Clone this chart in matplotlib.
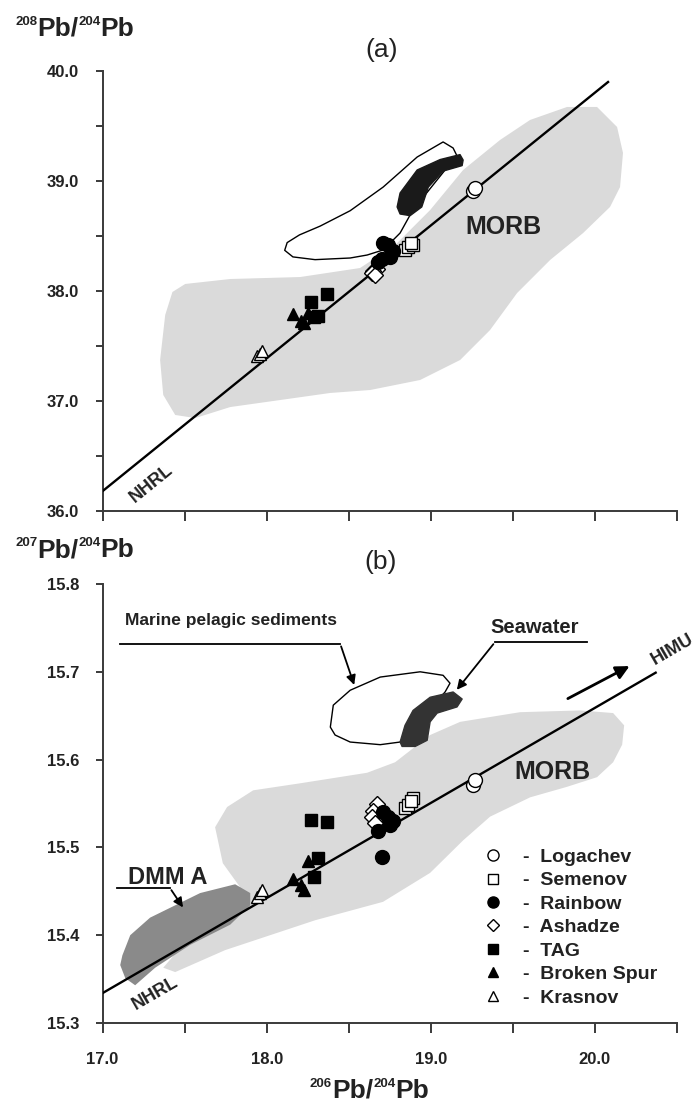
import matplotlib.pyplot as plt
from matplotlib.lines import Line2D
from matplotlib.patches import Polygon
import numpy as np

plt.rcParams['font.family'] = ['Liberation Sans', 'DejaVu Sans']

# ---- sample data (206Pb/204Pb shared by both panels) ----
log_x = [19.26, 19.27]
log_208 = [38.91, 38.94]
log_207 = [15.571, 15.577]

sem_x = [18.84, 18.86, 18.89, 18.88]
sem_208 = [38.37, 38.40, 38.42, 38.44]
sem_207 = [15.545, 15.548, 15.556, 15.553]

rain_x = [18.71, 18.74, 18.77, 18.75, 18.68, 18.70]
rain_208 = [38.44, 38.42, 38.36, 38.31, 38.26, 38.29]
rain_207 = [15.540, 15.535, 15.530, 15.525, 15.519, 15.489]

ash_x = [18.67, 18.65, 18.64, 18.66]
ash_208 = [38.20, 38.18, 38.16, 38.15]
ash_207 = [15.550, 15.542, 15.535, 15.528]

tag_x = [18.27, 18.37, 18.31, 18.29]
tag_208 = [37.90, 37.97, 37.77, 37.76]
tag_207 = [15.531, 15.529, 15.488, 15.466]

bs_x = [18.25, 18.16, 18.21, 18.23]
bs_208 = [37.80, 37.79, 37.73, 37.71]
bs_207 = [15.484, 15.464, 15.457, 15.452]

kr_x = [17.94, 17.96, 17.97]
kr_208 = [37.41, 37.43, 37.45]
kr_207 = [15.443, 15.448, 15.452]

# ---- reference line (NHRL) end points ----
nhrl_a_x = [17.0, 20.08]
nhrl_a_y = [36.18, 39.90]
nhrl_b_x = [17.0, 20.37]
nhrl_b_y = [15.334, 15.699]

# ---- fields, panel (a) ----
morb_a_x = [17.351, 17.382, 17.426, 17.504, 17.778, 18.204, 18.569, 18.783, 18.996, 19.197,
            19.422, 19.605, 19.830, 20.013, 20.135, 20.171, 20.153, 20.092, 19.928, 19.727,
            19.526, 19.361, 19.179, 18.935, 18.631, 18.387, 18.083, 17.778, 17.565, 17.443, 17.370]
morb_a_y = [37.373, 37.782, 37.991, 38.064, 38.109, 38.127, 38.209, 38.418, 38.736, 39.100,
            39.373, 39.555, 39.673, 39.673, 39.491, 39.255, 38.945, 38.764, 38.527, 38.282,
            37.982, 37.645, 37.373, 37.191, 37.100, 37.073, 37.009, 36.945, 36.845, 36.873, 37.055]

sed_a_x = [18.509, 18.612, 18.710, 18.813, 18.874, 18.965, 19.087, 19.166, 19.136, 19.075,
           18.917, 18.710, 18.509, 18.326, 18.200, 18.125, 18.110, 18.160, 18.295]
sed_a_y = [38.300, 38.327, 38.373, 38.527, 38.691, 38.873, 39.100, 39.209, 39.300, 39.355,
           39.218, 38.945, 38.730, 38.590, 38.510, 38.440, 38.370, 38.310, 38.285]

sw_a_x = [18.795, 18.813, 18.917, 19.057, 19.178, 19.197, 19.191, 19.075, 18.985, 18.945, 18.874, 18.813]
sw_a_y = [38.764, 38.891, 39.100, 39.195, 39.240, 39.191, 39.140, 39.090, 38.945, 38.764, 38.685, 38.700]

# ---- fields, panel (b) ----
morb_b_x = [17.686, 17.759, 17.918, 18.204, 18.612, 18.783, 18.996, 19.179, 19.544, 19.910,
            20.111, 20.178, 20.166, 20.111, 20.013, 19.830, 19.605, 19.361, 19.197, 18.996,
            18.709, 18.295, 17.747, 17.443, 17.370, 17.596, 17.837, 17.733]
morb_b_y = [15.523, 15.546, 15.565, 15.573, 15.585, 15.597, 15.628, 15.643, 15.654, 15.656,
            15.653, 15.639, 15.617, 15.597, 15.580, 15.569, 15.557, 15.535, 15.508, 15.471,
            15.438, 15.417, 15.383, 15.358, 15.363, 15.412, 15.455, 15.482]

dmm_x = [17.121, 17.169, 17.290, 17.595, 17.808, 17.900, 17.900, 17.778, 17.534, 17.321, 17.199, 17.139, 17.108]
dmm_y = [15.377, 15.400, 15.420, 15.448, 15.458, 15.448, 15.434, 15.412, 15.389, 15.363, 15.343, 15.351, 15.366]

sed_b_x = [18.388, 18.406, 18.509, 18.692, 18.935, 19.075, 19.117, 19.087, 18.813, 18.692, 18.509, 18.417]
sed_b_y = [15.637, 15.662, 15.679, 15.694, 15.700, 15.696, 15.687, 15.677, 15.620, 15.617, 15.620, 15.628]

sw_b_x = [18.813, 18.843, 18.892, 18.996, 19.136, 19.191, 19.160, 19.039, 18.996, 18.978, 18.905, 18.825]
sw_b_y = [15.620, 15.639, 15.656, 15.671, 15.677, 15.669, 15.660, 15.653, 15.643, 15.622, 15.615, 15.615]

legend_names = ['Logachev', 'Semenov', 'Rainbow', 'Ashadze', 'TAG', 'Broken Spur', 'Krasnov']
markers = ['o', 's', 'o', 'D', 's', '^', '^']
faces = ['white', 'white', 'black', 'white', 'black', 'black', 'white']
sizes = [10, 9, 10, 8, 9, 9, 9]

H = 1101
fig = plt.figure(figsize=(6.98, 11.01), dpi=100)
ax_a = fig.add_axes([102.5 / 698, 1 - 511 / H, 574.5 / 698, 440 / H])
ax_b = fig.add_axes([102.5 / 698, 1 - 1023 / H, 574.5 / 698, 439 / H])

GREY_LIGHT = '#dadada'
TXT = '#222222'


def field(ax, xs, ys, face, edge='none', lw=0.0, z=1):
    ax.add_patch(Polygon(np.column_stack([xs, ys]), closed=True, facecolor=face,
                         edgecolor=edge, linewidth=lw, zorder=z, joinstyle='round'))


def samples(ax, ys_list):
    xs_list = [log_x, sem_x, rain_x, ash_x, tag_x, bs_x, kr_x]
    order = [0, 1, 3, 2, 4, 5, 6]
    for i in order:
        ax.plot(xs_list[i], ys_list[i], linestyle='none', marker=markers[i],
                markersize=sizes[i], markerfacecolor=faces[i], markeredgecolor='black',
                markeredgewidth=1.0, zorder=6)


def style(ax, ylim, yticks, yminor):
    ax.set_xlim(17.0, 20.5)
    ax.set_ylim(*ylim)
    for s in ['top', 'right']:
        ax.spines[s].set_visible(False)
    for s in ['left', 'bottom']:
        ax.spines[s].set_color('#3a3a3a')
        ax.spines[s].set_linewidth(1.4)
    ax.set_xticks([17.0, 18.0, 19.0, 20.0])
    ax.set_xticks([17.5, 18.5, 19.5, 20.5], minor=True)
    ax.set_yticks(yticks)
    ax.set_yticks(yminor, minor=True)
    ax.tick_params(axis='x', which='both', direction='out', length=7, width=1.4,
                   color='#3a3a3a', pad=14, labelsize=12)
    ax.tick_params(axis='y', which='both', direction='out', length=5, width=1.4,
                   color='#3a3a3a', pad=12, labelsize=12)
    ax.yaxis.set_major_formatter(plt.FormatStrFormatter('%.1f'))
    ax.xaxis.set_major_formatter(plt.FormatStrFormatter('%.1f'))
    for lab in ax.get_xticklabels() + ax.get_yticklabels():
        lab.set_fontweight('bold')
        lab.set_color(TXT)


def iso_label(x_px, base_px, mass):
    # small raised mass number, then "Pb/", "204", "Pb" chained left to right
    y_main = H - base_px
    y_sup = H - base_px + 11
    prev = ax_a.annotate(mass, xy=(x_px, y_sup), xycoords='figure pixels',
                         fontsize=9.5, fontweight='bold', color=TXT, va='baseline', ha='left')
    for txt, y, size in [('Pb/', y_main, 19), ('204', y_sup, 9.5), ('Pb', y_main, 19)]:
        prev = ax_a.annotate(txt, xy=(1, y), xycoords=(prev, 'figure pixels'),
                             fontsize=size, fontweight='bold', color=TXT,
                             va='baseline', ha='left')


# ---------- panel (a) ----------
style(ax_a, (36.0, 40.0), [36.0, 37.0, 38.0, 39.0, 40.0], [36.5, 37.5, 38.5, 39.5])
ax_a.tick_params(axis='x', labelbottom=False)
field(ax_a, morb_a_x, morb_a_y, GREY_LIGHT, z=1)
field(ax_a, sed_a_x, sed_a_y, 'white', edge='black', lw=1.0, z=3)
field(ax_a, sw_a_x, sw_a_y, '#1a1a1a', edge='#1a1a1a', lw=1.0, z=4)
ax_a.plot(nhrl_a_x, nhrl_a_y, color='black', lw=1.7, zorder=5)
samples(ax_a, [log_208, sem_208, rain_208, ash_208, tag_208, bs_208, kr_208])
ax_a.text(19.44, 38.58, 'MORB', fontsize=18, fontweight='bold', color=TXT,
          ha='center', va='center', zorder=7)
ax_a.text(17.30, 36.25, 'NHRL', fontsize=13, fontweight='bold', rotation=39,
          ha='center', va='center', color=TXT, rotation_mode='anchor')

# ---------- panel (b) ----------
style(ax_b, (15.3, 15.8), [15.3, 15.4, 15.5, 15.6, 15.7, 15.8], [])
field(ax_b, morb_b_x, morb_b_y, GREY_LIGHT, z=1)
field(ax_b, dmm_x, dmm_y, '#8a8a8a', z=2)
field(ax_b, sed_b_x, sed_b_y, 'white', edge='black', lw=1.0, z=3)
field(ax_b, sw_b_x, sw_b_y, '#333333', edge='#333333', lw=1.0, z=4)
ax_b.plot(nhrl_b_x, nhrl_b_y, color='black', lw=1.7, zorder=5)
samples(ax_b, [log_207, sem_207, rain_207, ash_207, tag_207, bs_207, kr_207])
ax_b.text(19.74, 15.586, 'MORB', fontsize=18, fontweight='bold', color=TXT,
          ha='center', va='center', zorder=7)
ax_b.text(17.32, 15.333, 'NHRL', fontsize=13, fontweight='bold', rotation=30,
          ha='center', va='center', color=TXT, rotation_mode='anchor')
ax_b.text(17.395, 15.466, 'DMM A', fontsize=17, fontweight='bold', color=TXT,
          ha='center', va='center')
ax_b.plot([17.09, 17.41], [15.454, 15.454], color='black', lw=1.3, zorder=7)
ax_b.annotate('', xy=(17.50, 15.429), xytext=(17.41, 15.454),
              arrowprops=dict(arrowstyle='-|>', color='black', lw=1.3, mutation_scale=14),
              zorder=7)

# marine pelagic sediments label and pointer
ax_b.text(17.785, 15.758, 'Marine pelagic sediments', fontsize=12.5, fontweight='bold',
          color=TXT, ha='center', va='center')
ax_b.plot([17.108, 18.448], [15.732, 15.732], color='black', lw=1.3, zorder=7)
ax_b.annotate('', xy=(18.539, 15.682), xytext=(18.448, 15.732),
              arrowprops=dict(arrowstyle='-|>', color='black', lw=1.3, mutation_scale=14),
              zorder=7)

# seawater label and pointer
ax_b.text(19.635, 15.750, 'Seawater', fontsize=14.5, fontweight='bold',
          color=TXT, ha='center', va='center')
ax_b.plot([19.392, 19.952], [15.734, 15.734], color='black', lw=1.3, zorder=7)
ax_b.annotate('', xy=(19.148, 15.677), xytext=(19.392, 15.734),
              arrowprops=dict(arrowstyle='-|>', color='black', lw=1.3, mutation_scale=14),
              zorder=7)

# HIMU arrow
ax_b.annotate('', xy=(20.226, 15.708), xytext=(19.82, 15.668),
              arrowprops=dict(arrowstyle='-|>', color='black', lw=2.0, mutation_scale=20),
              zorder=7)
ax_b.text(20.47, 15.725, 'HIMU', fontsize=13, fontweight='bold', rotation=30,
          ha='center', va='center', color=TXT, rotation_mode='anchor')

# legend
handles = [Line2D([], [], linestyle='none', marker=m, markersize=s * 0.8,
                  markerfacecolor=f, markeredgecolor='black', markeredgewidth=1.0)
           for m, f, s in zip(markers, faces, sizes)]
leg = ax_b.legend(handles, ['-  ' + n for n in legend_names], loc='upper left',
                  bbox_to_anchor=(0.646, 0.42), frameon=False, handlelength=1.0,
                  handletextpad=1.05, labelspacing=0.3, borderpad=0,
                  prop={'weight': 'bold', 'size': 14})
for t in leg.get_texts():
    t.set_color(TXT)

# axis titles
iso_label(15, 36, '208')
iso_label(15, 557, '207')
iso_label(310, 1098, '206')
fig.text(382 / 698, 1 - 50 / H, '(a)', fontsize=19, ha='center', va='center', color=TXT)
fig.text(381 / 698, 1 - 562 / H, '(b)', fontsize=19, ha='center', va='center', color=TXT)

fig.savefig('out.png', dpi=100)
